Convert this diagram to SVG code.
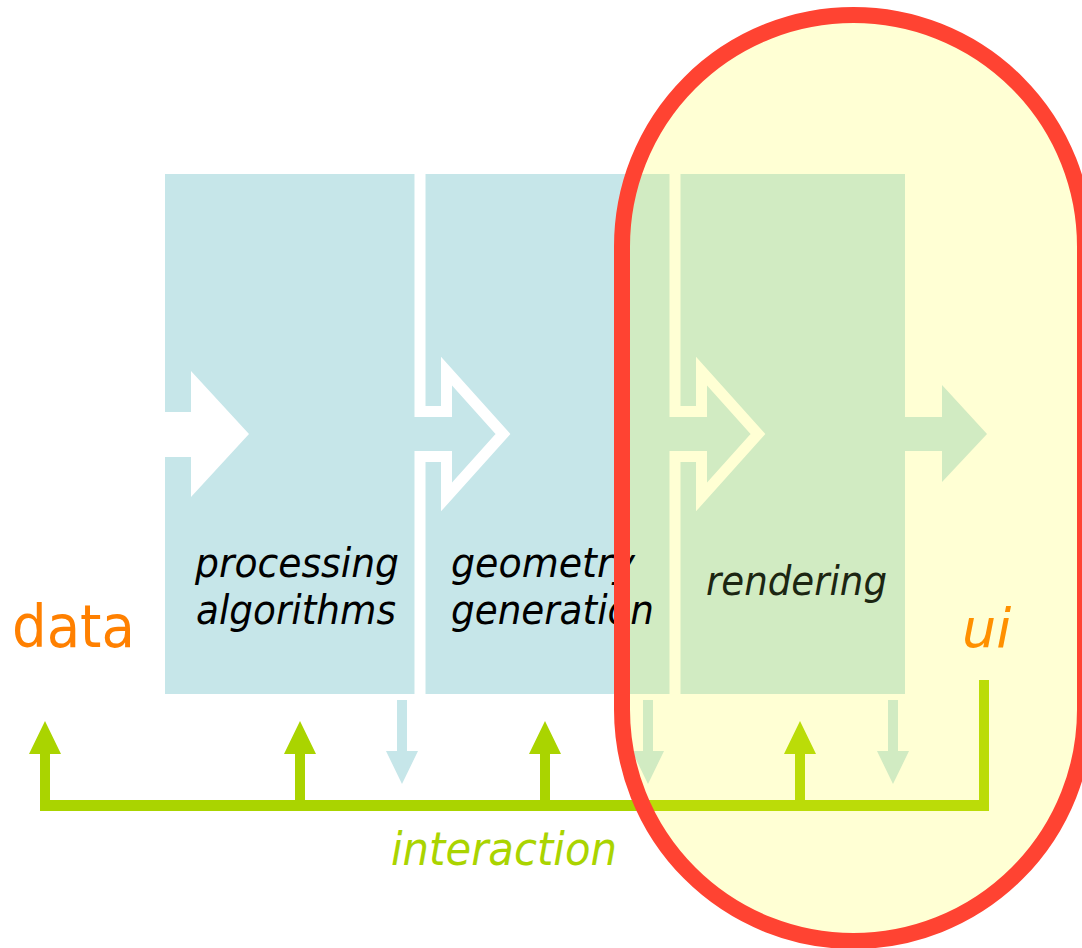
<svg xmlns="http://www.w3.org/2000/svg" width="1082" height="948" viewBox="0 0 1082 948">
<style>
.box{fill:#c6e6e9}
.gap{fill:none;stroke:#ffffff;stroke-width:11;stroke-linejoin:miter;stroke-miterlimit:10}
.grn{fill:#aad400}
.blu{fill:#c6e6e9}
.lbl{font-family:"DejaVu Sans","Liberation Sans",sans-serif;font-style:italic;font-size:40px;fill:#000}
.big{font-family:"DejaVu Sans","Liberation Sans",sans-serif;fill:#ff8000}
</style>
<rect width="1082" height="948" fill="#ffffff"/>
<g id="box-processing"><rect class="box" x="165" y="174" width="255" height="520"/></g>
<g id="box-geometry"><rect class="box" x="420" y="174" width="255" height="520"/></g>
<g id="box-rendering"><rect class="box" x="675" y="174" width="230" height="520"/></g>
<g id="connectors">
  <polygon fill="#ffffff" points="165,412 191,412 191,371 249,434 191,497 191,457 165,457"/>
  <path class="gap" d="M420,174 V411.5 H446.5 V371 L503,434 L446.5,497 V456.5 H420 V694"/>
  <path class="gap" d="M675,174 V411.5 H701.5 V371 L758,434 L701.5,497 V456.5 H675 V694"/>
  <polygon class="blu" points="905,417 942,417 942,385 987,434 942,482 942,451 905,451"/>
  <g id="down-arrows">
    <polygon class="blu" points="397,700 407,700 407,751 418,751 402,784 386,751 397,751"/>
    <polygon class="blu" points="643,700 653,700 653,751 664,751 648,784 632,751 643,751"/>
    <polygon class="blu" points="888,700 898,700 898,751 909,751 893,784 877,751 888,751"/>
  </g>
  <g id="interaction-bus">
    <rect class="grn" x="40" y="800" width="949" height="11"/>
    <rect class="grn" x="979" y="680" width="10" height="131"/>
    <polygon class="grn" points="40,805 40,754 29,754 45,721 61,754 50,754 50,805"/>
    <polygon class="grn" points="295,805 295,754 284,754 300,721 316,754 305,754 305,805"/>
    <polygon class="grn" points="540,805 540,754 529,754 545,721 561,754 550,754 550,805"/>
    <polygon class="grn" points="795,805 795,754 784,754 800,721 816,754 805,754 805,805"/>
  </g>
</g>
<g id="ui-highlight-fill">
  <rect x="622" y="15" width="463" height="926" rx="231.5" ry="231.5" fill="#ffff28" fill-opacity="0.2"/>
</g>
<g id="labels">
  <text class="lbl" x="195" y="577" textLength="204" lengthAdjust="spacingAndGlyphs">processing</text>
  <text class="lbl" x="196" y="624" textLength="200" lengthAdjust="spacingAndGlyphs">algorithms</text>
  <text class="lbl" x="451" y="577" textLength="184" lengthAdjust="spacingAndGlyphs">geometry</text>
  <text class="lbl" x="451" y="624" textLength="203" lengthAdjust="spacingAndGlyphs">generation</text>
  <text class="lbl" x="706" y="595" textLength="181" lengthAdjust="spacingAndGlyphs" style="fill:#1c2612">rendering</text>
  <text class="big" x="12" y="647" font-size="58" textLength="123" lengthAdjust="spacingAndGlyphs">data</text>
  <text class="big" x="962" y="647" font-size="54" font-style="italic" style="fill:#ff9000">ui</text>
  <text class="lbl" x="391" y="865" textLength="226" lengthAdjust="spacingAndGlyphs" style="fill:#aad400;font-size:46px">interaction</text>
</g>
<g id="ui-highlight">
  <rect x="622" y="15" width="463" height="926" rx="231.5" ry="231.5" fill="none" stroke="#ff4332" stroke-width="16"/>
</g>
</svg>
